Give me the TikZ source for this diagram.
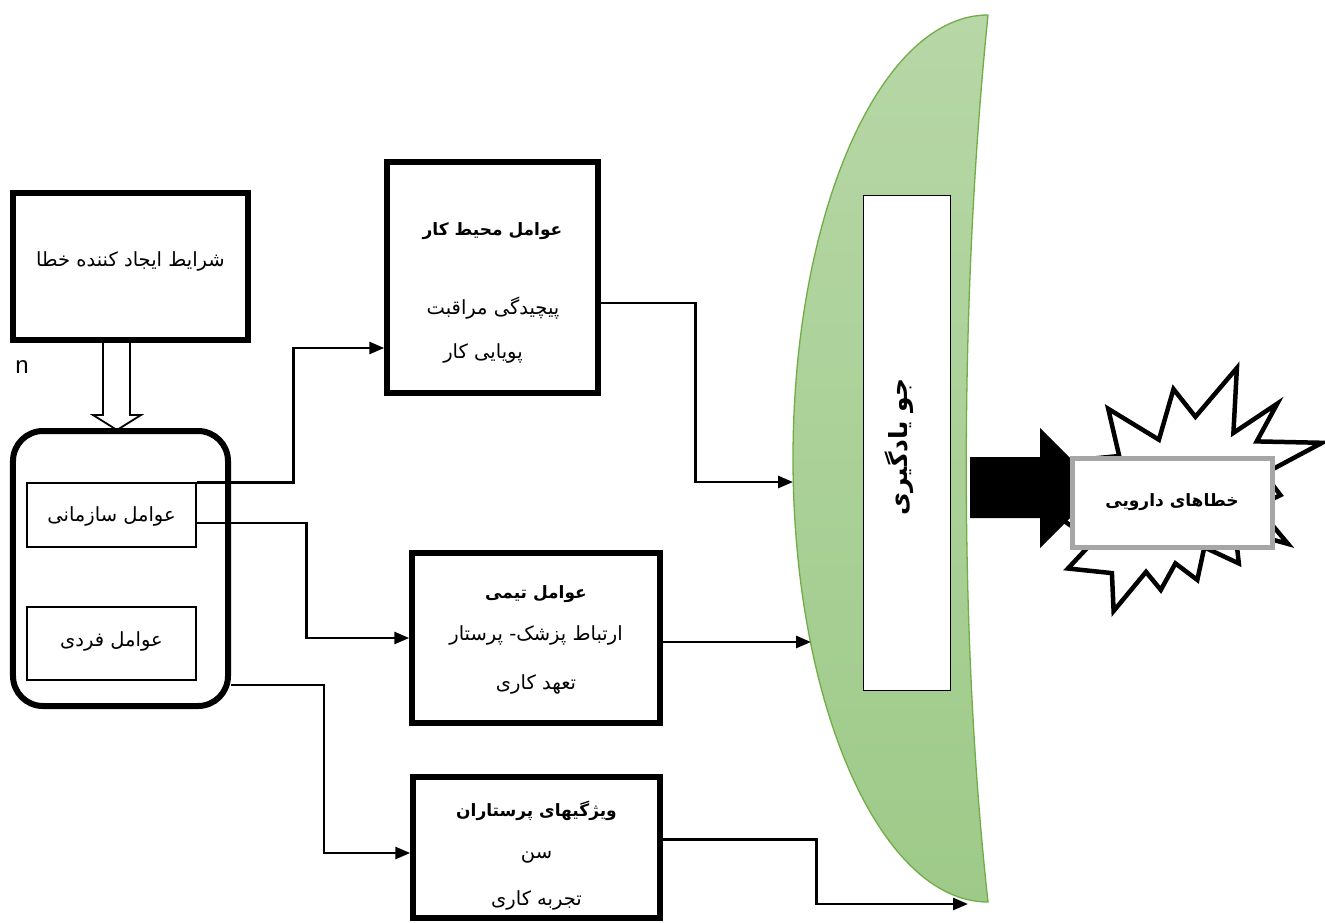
\documentclass[tikz,border=0pt]{standalone}
\usepackage{fontspec}
\usetikzlibrary{arrows.meta,calc}
\TeXXeTstate=1
\newfontfamily\arabicfont[Script=Arabic]{DejaVu Sans}
\newfontfamily\latinsans{Liberation Sans}
\newcommand\faT[1]{{\arabicfont\beginR #1\endR}}
\definecolor{lensTop}{RGB}{183,215,166}
\definecolor{lensBot}{RGB}{158,202,137}
\definecolor{lensLine}{RGB}{112,173,71}
\definecolor{errGray}{RGB}{166,166,166}
\tikzset{
  bigbox/.style={draw=black, line width=5.5bp, fill=white, inner sep=0pt},
  smallbox/.style={draw=black, line width=1.5bp, inner sep=0pt},
  conn/.style={line width=2.8bp, -{Triangle[length=15bp,width=12bp]}},
  txt/.style={font=\fontsize{19.5bp}{22bp}\selectfont, inner sep=0pt},
  ttl/.style={font=\fontsize{17bp}{20bp}\selectfont\bfseries, inner sep=0pt},
}
\begin{document}
\begin{tikzpicture}[x=1bp,y=-1bp]
\useasboundingbox (0,0) rectangle (1325,922);
\fill[white] (0,0) rectangle (1325,922);

% ---- lens (learning climate)
\path[draw=lensLine, line width=1.3bp, top color=lensTop, bottom color=lensBot]
  (988,15) .. controls (880.3,15) and (793,213.5) .. (793,458.5)
  .. controls (793,703.5) and (880.3,902) .. (988,902)
  .. controls (959,640) and (959,300) .. (988,15) -- cycle;
\coordinate (lensA) at (793,482);
\coordinate (lensB) at (811,642);
\coordinate (lensC) at (968,904);
\node[draw=black, line width=1bp, fill=white, minimum width=87bp, minimum height=495bp, inner sep=0pt] (lrect) at (906.5,442.5) {};
\node[ttl, rotate=90, font=\fontsize{25bp}{28bp}\selectfont\bfseries] (ltext) at (899,447) {\faT{جو یادگیری}};

% ---- left boxes
\filldraw[draw=black, fill=white, line width=1.8bp]
  (103,340) -- (103,415) -- (93,415) -- (117,430) -- (141,415) -- (130,415) -- (130,340);
\node[bigbox, minimum width=235bp, minimum height=147bp] (b1) at (130.5,266.5) {};
\node[txt] (t1) at (130.5,261) {\faT{شرایط ایجاد کننده خطا}};

\node[font=\latinsans\fontsize{24bp}{28bp}\selectfont, inner sep=0pt] (nlbl) at (22,367) {n};

\node[draw=black, line width=6bp, rounded corners=30bp, minimum width=215bp, minimum height=275bp, fill=white] (org) at (120.5,568.5) {};
\node[smallbox, minimum width=169bp, minimum height=64bp] (orgS) at (111.5,515) {};
\node[txt] (tS) at (111.5,516) {\faT{عوامل سازمانی}};
\node[smallbox, minimum width=169bp, minimum height=73bp] (orgF) at (111.5,643.5) {};
\node[txt] (tF) at (111.5,641) {\faT{عوامل فردی}};

% ---- middle boxes
\node[bigbox, minimum width=211bp, minimum height=231bp] (b2) at (492.5,277.5) {};
\node[ttl] (t2a) at (492.5,231) {\faT{عوامل محیط کار}};
\node[txt] (t2b) at (493,308) {\faT{پیچیدگی مراقبت}};
\node[txt] (t2c) at (483,353) {\faT{پویایی کار}};

\node[bigbox, minimum width=248bp, minimum height=170bp] (b3) at (536,638) {};
\node[ttl] (t3a) at (536,594) {\faT{عوامل تیمی}};
\node[txt] (t3b) at (536,635) {\faT{ارتباط پزشک- پرستار}};
\node[txt] (t3c) at (536,684) {\faT{تعهد کاری}};

\node[bigbox, minimum width=247bp, minimum height=141bp] (b4) at (536.5,847.5) {};
\node[ttl] (t4a) at (536.5,811) {\faT{ویژگیهای پرستاران}};
\node[txt] (t4b) at (536.5,857) {\faT{سن}};
\node[txt] (t4c) at (536.5,900) {\faT{تجربه کاری}};

% ---- connectors
\draw[conn] (orgS.north east) -- ++(97,0) |- ($(b2.west)+(0,70.5)$);
\draw[conn] ($(orgS.east)+(0,8)$) -- ++(110,0) |- (b3.west);
\draw[conn] ($(org.east)+(0,116.5)$) -- ++(93,0) |- ($(b4.west)+(0,5.5)$);
\draw[conn] ($(b2.east)+(0,25.5)$) -- ++(95,0) |- (lensA);
\draw[conn] ($(b3.east)+(0,4)$) -- (lensB);
\draw[conn] ($(b4.east)+(0,-8)$) -- ++(154,0) |- (lensC);

% ---- explosion
\filldraw[draw=black, fill=white, line width=4.5bp, line join=miter]
  (1195.4,416.8) -- (1236.9,368) -- (1233.4,432.9) -- (1277.2,403.7) -- (1256.7,441.4)
  -- (1322,442.8) -- (1264.2,473.7) -- (1280.4,495.1) -- (1256.7,506.5) -- (1288.0,543.9)
  -- (1235.1,529.4) -- (1238.8,563.4) -- (1204.3,547.3) -- (1197.3,579.9) -- (1175.4,563.4)
  -- (1160.8,589.9) -- (1146.0,571.9) -- (1113.6,611) -- (1111.9,573.1) -- (1067.9,568.5)
  -- (1093.6,541.0) -- (1052,512.8) -- (1101.1,498.5) -- (1066.6,461.1) -- (1119.2,456.0)
  -- (1108.2,408.8) -- (1158.9,439.7) -- (1173.5,389.1) -- cycle;

% ---- block arrow from lens to errors
\fill[black] (970,457) -- (1040,457) -- (1040,428) -- (1100,488) -- (1040,548) -- (1040,518) -- (970,518) -- cycle;

\node[draw=errGray, line width=5bp, fill=white, minimum width=200bp, minimum height=89bp, ttl] (err) at (1172,502.5) {\faT{خطاهای دارویی}};
\end{tikzpicture}
\end{document}
